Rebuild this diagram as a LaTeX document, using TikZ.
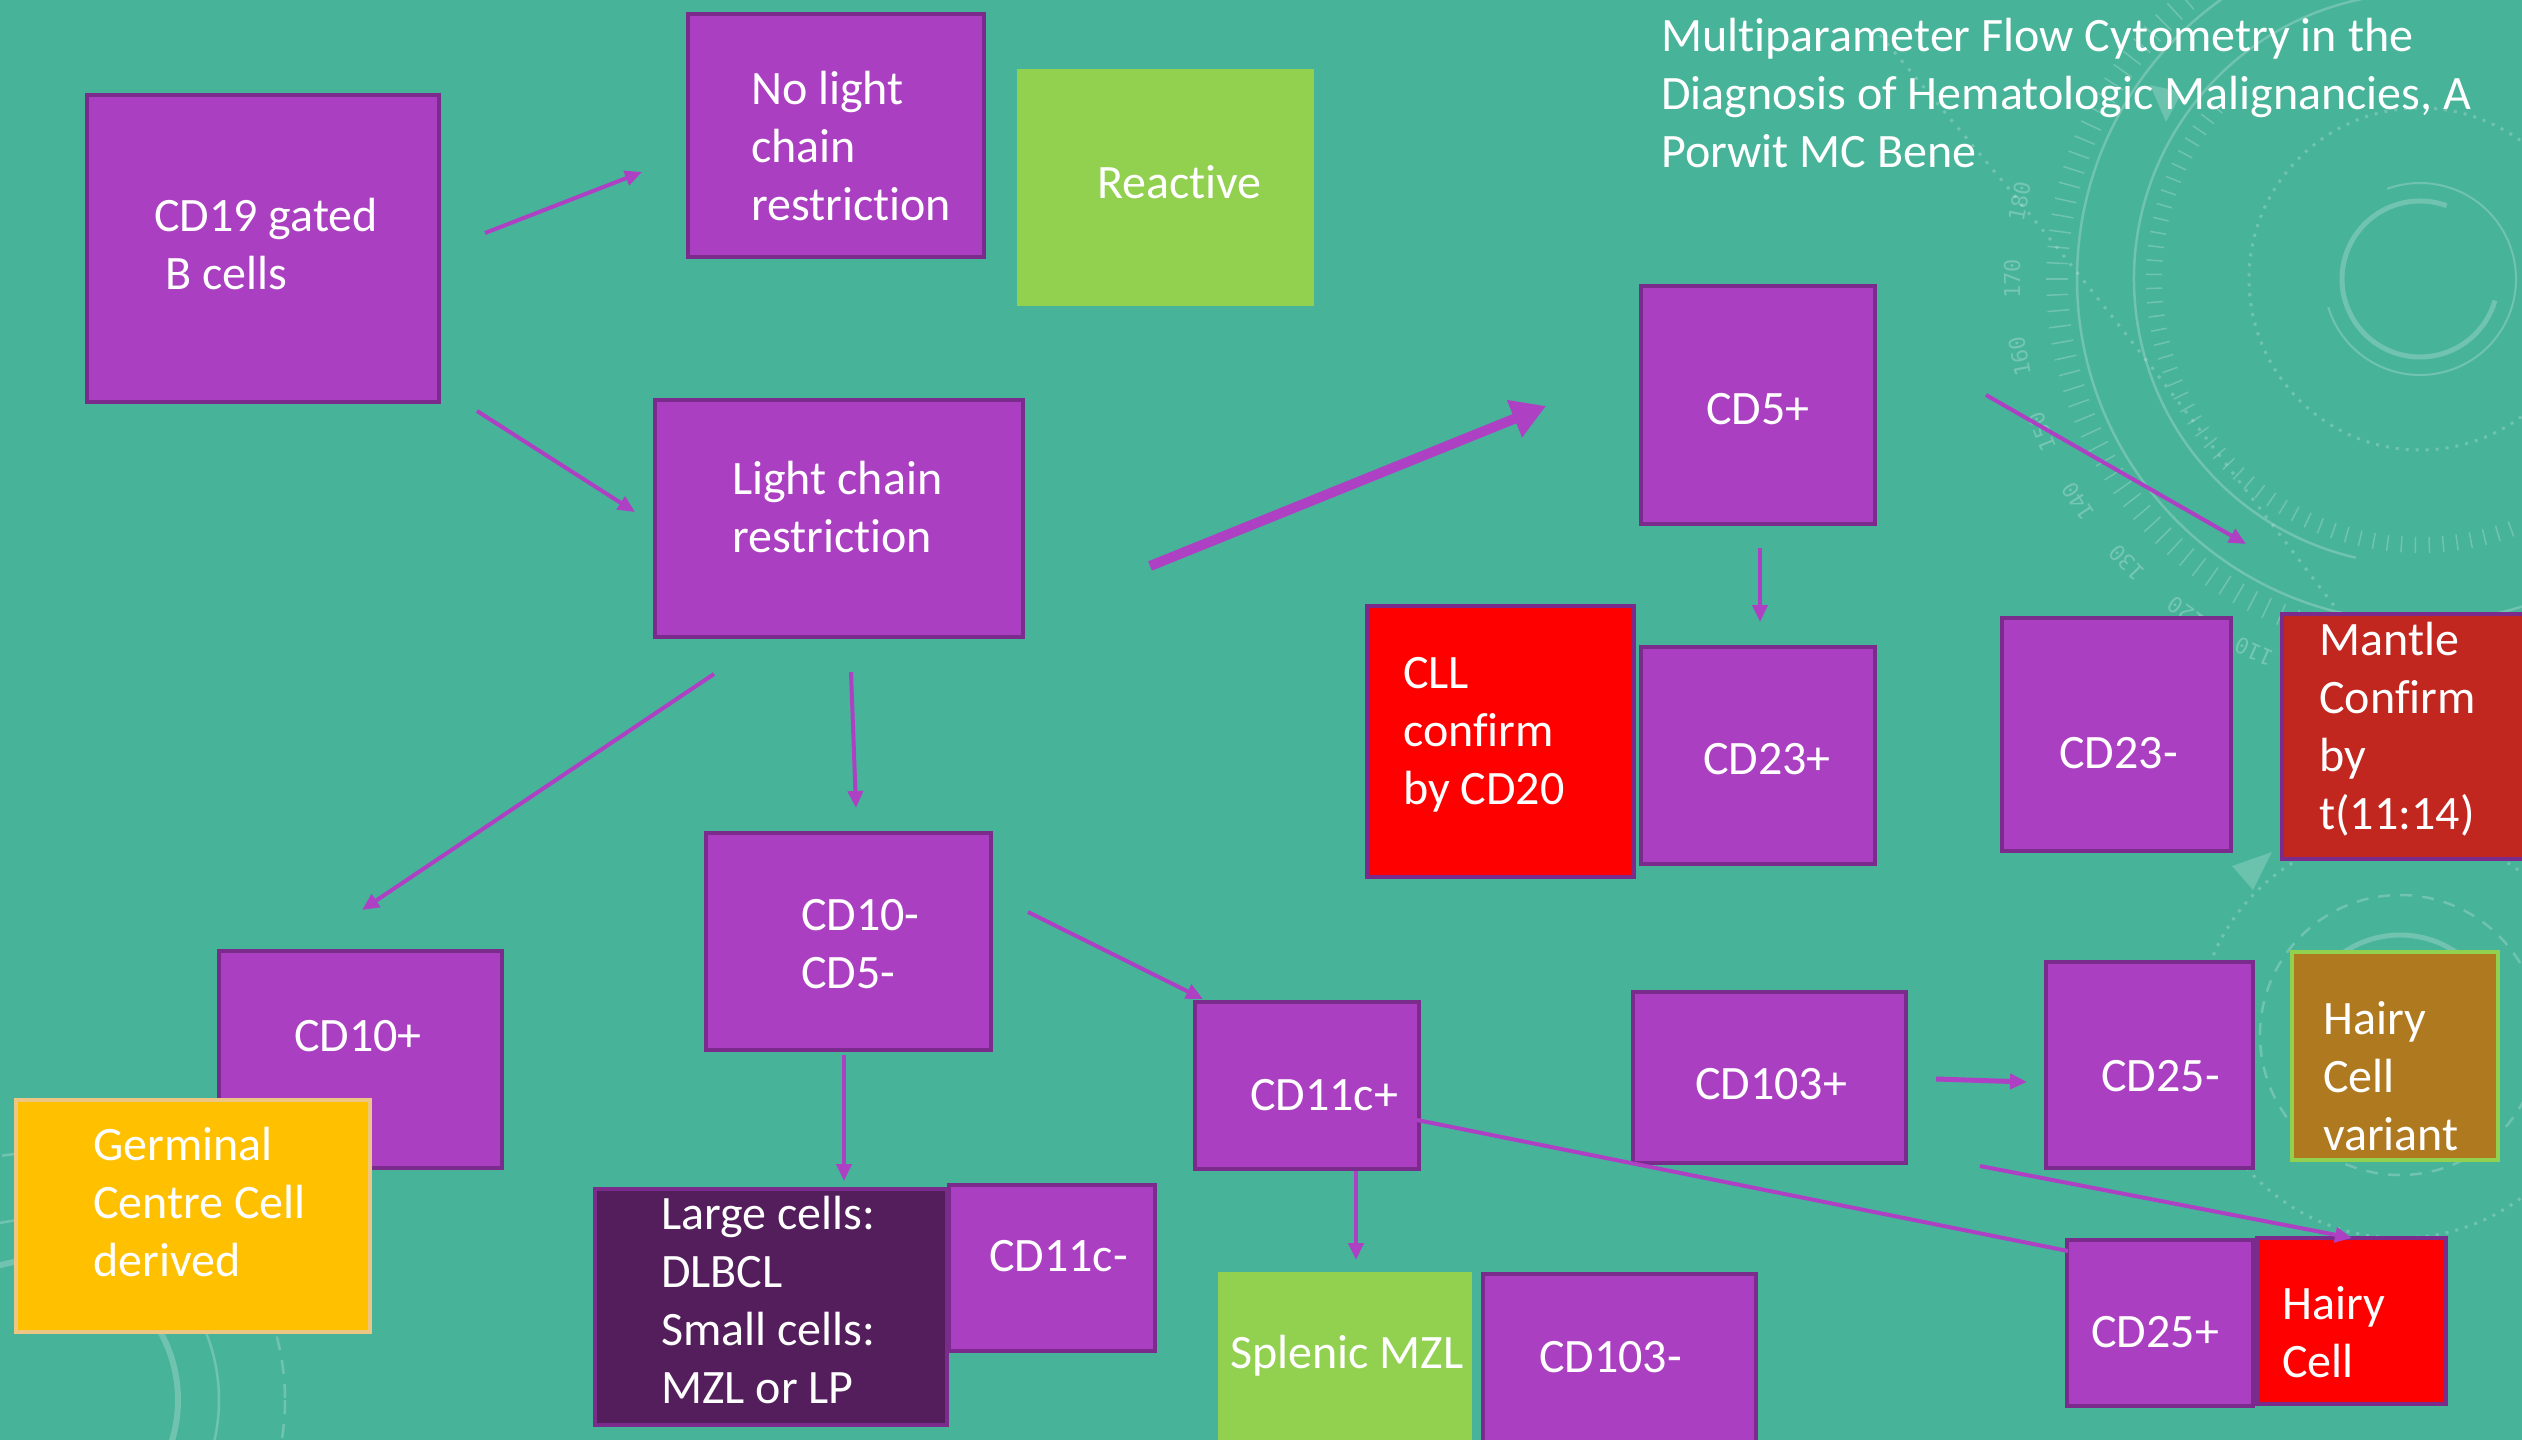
\documentclass[tikz,border=0pt]{standalone}
\usepackage{fontspec}
\setmainfont{Carlito}[Ligatures=NoCommon]
\newfontfamily\decofont{DejaVu Sans Mono}
\usetikzlibrary{arrows.meta,fit}
\definecolor{bgteal}{HTML}{47B399}
\definecolor{ppurple}{HTML}{AB3FC1}
\definecolor{pborder}{HTML}{7B2B8B}
\definecolor{darkpurple}{HTML}{541E5D}
\definecolor{lgreen}{HTML}{92D050}
\definecolor{mantlered}{HTML}{C1271F}
\definecolor{brownbox}{HTML}{AE791F}
\definecolor{yellowbox}{HTML}{FFC000}
\definecolor{yellowborder}{HTML}{EEC684}
\definecolor{arrowcol}{HTML}{AE40C4}
\tikzset{
  boxbase/.style={rectangle, inner sep=0pt, line width=4.5pt},
  pbox/.style={boxbase, draw=pborder, fill=ppurple},
  redbox/.style={boxbase, draw=pborder, fill=red},
  mbox/.style={boxbase, draw=pborder, fill=mantlered},
  dbox/.style={boxbase, draw=pborder, fill=darkpurple},
  gbox/.style={boxbase, fill=lgreen},
  ybox/.style={boxbase, draw=yellowborder, fill=yellowbox},
  bbox/.style={boxbase, draw=lgreen, fill=brownbox},
  lbl/.style={text=white, align=left, inner sep=0pt, anchor=west,
    font=\fontsize{48}{58}\selectfont},
  arr/.style={draw=arrowcol, line width=4pt, -{Triangle[length=17pt,width=15pt]}},
  thickarr/.style={draw=arrowcol, line width=10pt, -{Triangle[length=34pt,width=38pt]}},
  plainline/.style={draw=arrowcol, line width=4pt},
  deco/.style={draw=white, draw opacity=0.22},
  decotxt/.style={text=white, text opacity=0.25, inner sep=0pt,
    font=\decofont\fontsize{22}{24}\selectfont},
}
\begin{document}
\begin{tikzpicture}[x=1pt,y=-1pt]
% background
\fill[bgteal] (0,0) rectangle (2522,1440);
\useasboundingbox (0,0) rectangle (2522,1440);

% ---------- decorations (top right) ----------
\begin{scope}[shift={(2420,279)}]
  \draw[deco, line width=5pt] (-70:78) arc[start angle=-70, end angle=-344, radius=78];
  \draw[deco, line width=2pt] (163:96) arc[start angle=163, end angle=-110, radius=96];
  \draw[deco, line width=3pt, dash pattern=on 3pt off 7pt] (0,0) circle[radius=171];
  \draw[deco, line width=2.5pt] (-100:286) arc[start angle=-100, end angle=-257, radius=286];
  \draw[deco, line width=2.5pt] (0,0) circle[radius=343];
  \foreach \a in {120,122.5,...,272} {
    \draw[deco, line width=1.5pt] (-\a:352) -- (-\a:374);
  }
  \foreach \a in {140,143,...,292} {
    \draw[deco, line width=1.5pt] (-\a:258) -- (-\a:274);
  }
  \foreach \v/\a in {180/169,170/180,160/191,150/202,140/213,130/224,120/235,110/246} {
    \node[decotxt, rotate=\a-90] at (-\a:408) {\v};
  }
\end{scope}
\draw[deco, line width=3pt, dash pattern=on 3pt off 8pt] (1880,35) .. controls (2090,285) .. (2360,640);
\fill[white, fill opacity=0.2] (2150,85) -- (2182,92) -- (2166,122) -- cycle;

% ---------- decorations (bottom left) ----------
\draw[deco, line width=6pt] (38,1400) circle[radius=140];
\draw[deco, line width=2.5pt] (38,1400) circle[radius=181];
\draw[deco, line width=2.5pt, dash pattern=on 14pt off 10pt] (38,1400) circle[radius=247];

% ---------- decorations (hairy cell area) ----------
\draw[deco, line width=2.5pt, dash pattern=on 12pt off 10pt] (2400,1035) circle[radius=140];
\draw[deco, line width=3pt, dash pattern=on 3pt off 7pt] (2400,1035) circle[radius=203];
\draw[deco, line width=5pt] (-40:100) ++(2400,1035) arc[start angle=-40, end angle=-140, radius=100];
\fill[white, fill opacity=0.2] (2232,866) -- (2272,852) -- (2253,890) -- cycle;

% ---------- boxes ----------
\node[pbox, fit={(87,95) (439,402)}] (cd19) {};
\node[pbox, fit={(688,14) (984,257)}] (nolight) {};
\node[gbox, fit={(1017,69) (1314,306)}] (reactive) {};
\node[pbox, fit={(655,400) (1023,637)}] (light) {};
\node[pbox, fit={(1641,286) (1875,524)}] (cd5p) {};
\node[redbox, fit={(1367,606) (1634,877)}] (cll) {};
\node[pbox, fit={(1641,647) (1875,864)}] (cd23p) {};
\node[pbox, fit={(2002,618) (2231,851)}] (cd23m) {};
\node[mbox, fit={(2282,614) (2530,859)}] (mantle) {};
\node[pbox, fit={(706,833) (991,1050)}] (cd10m) {};
\node[pbox, fit={(219,951) (502,1168)}] (cd10p) {};
\node[ybox, fit={(16,1100) (370,1332)}] (germinal) {};
\node[dbox, fit={(595,1189) (947,1425)}] (large) {};
\node[pbox, fit={(949,1185) (1155,1351)}] (cd11cm) {};
\node[pbox, fit={(1195,1002) (1419,1169)}] (cd11cp) {};
\node[gbox, fit={(1218,1272) (1472,1450)}] (splenic) {};
\node[pbox, fit={(1483,1274) (1756,1450)}] (cd103m) {};
\node[pbox, fit={(1633,992) (1906,1163)}] (cd103p) {};
\node[pbox, fit={(2046,962) (2253,1168)}] (cd25m) {};
\node[bbox, fit={(2292,952) (2498,1160)}] (hcv) {};
\node[pbox, fit={(2067,1240) (2253,1406)}] (cd25p) {};
\node[redbox, fit={(2257,1238) (2446,1404)}] (hc) {};

% ---------- texts ----------
\node[lbl] (cd19t) at (154,244) {CD19 gated\\\hspace*{11pt}B cells};
\node[lbl] (nolightt) at (751,146) {No light\\chain\\restriction};
\node[lbl] (reactivet) at (1097,182) {Reactive};
\node[lbl] (lightt) at (732,507) {Light chain\\restriction};
\node[lbl] (cd5pt) at (1706,409) {CD5+};
\node[lbl] (cllt) at (1403,735) {CLL\\confirm\\by CD20};
\node[lbl] (cd23pt) at (1703,759) {CD23+};
\node[lbl] (cd23mt) at (2059,753) {CD23-};
\node[lbl] (mantlet) at (2319,729) {Mantle\\Confirm\\by\\t(11:14)};
\node[lbl] (cd10mt) at (801,944) {CD10-\\CD5-};
\node[lbl] (cd10pt) at (294,1036) {CD10+};
\node[lbl] (germinalt) at (93,1202) {Germinal\\Centre Cell\\derived};
\node[lbl] (larget) at (661,1300) {Large cells:\\DLBCL\\Small cells:\\MZL or LP};
\node[lbl] (cd11cmt) at (989,1256) {CD11c-};
\node[lbl] (cd11cpt) at (1250,1095) {CD11c+};
\node[lbl] (splenict) at (1230,1356) {Splenic MZL};
\node[lbl] (cd103mt) at (1539,1357) {CD103-};
\node[lbl] (cd103pt) at (1695,1084) {CD103+};
\node[lbl] (cd25mt) at (2101,1076) {CD25-};
\node[lbl] (hcvt) at (2323,1076) {Hairy\\Cell\\variant};
\node[lbl] (cd25pt) at (2091,1332) {CD25+};
\node[lbl] (hct) at (2282,1332) {Hairy\\Cell};
\node[lbl] (title) at (1661,93) {Multiparameter Flow Cytometry in the\\Diagnosis of Hematologic Malignancies, A\\Porwit MC Bene};

% ---------- connector end points ----------
\coordinate (a1s) at (485,233);   \coordinate (a1e) at (642,172);
\coordinate (a2s) at (477,411);   \coordinate (a2e) at (635,512);
\coordinate (a3s) at (1150,566);  \coordinate (a3e) at (1546,406);
\coordinate (a4s) at (1760,548);  \coordinate (a4e) at (1760,622);
\coordinate (a5s) at (1986,395);  \coordinate (a5e) at (2246,544);
\coordinate (a6s) at (714,674);   \coordinate (a6e) at (362,910);
\coordinate (a7s) at (851,672);   \coordinate (a7e) at (856,808);
\coordinate (a8s) at (1028,912);  \coordinate (a8e) at (1203,999);
\coordinate (a9s) at (844,1055);  \coordinate (a9e) at (844,1181);
\coordinate (a10s) at (1356,1171); \coordinate (a10e) at (1356,1260);
\coordinate (a11s) at (1417,1120); \coordinate (a11e) at (2068,1251);
\coordinate (a12s) at (1936,1079); \coordinate (a12e) at (2027,1082);
\coordinate (a13s) at (1980,1166); \coordinate (a13e) at (2352,1238);

% ---------- connectors ----------
\draw[arr] (a1s) -- (a1e);
\draw[arr] (a2s) -- (a2e);
\draw[thickarr] (a3s) -- (a3e);
\draw[arr] (a4s) -- (a4e);
\draw[arr] (a5s) -- (a5e);
\draw[arr] (a6s) -- (a6e);
\draw[arr] (a7s) -- (a7e);
\draw[arr] (a8s) -- (a8e);
\draw[arr] (a9s) -- (a9e);
\draw[arr] (a10s) -- (a10e);
\draw[plainline] (a11s) -- (a11e);
\draw[arr, line width=5pt] (a12s) -- (a12e);
\draw[arr] (a13s) -- (a13e);
\end{tikzpicture}
\end{document}
